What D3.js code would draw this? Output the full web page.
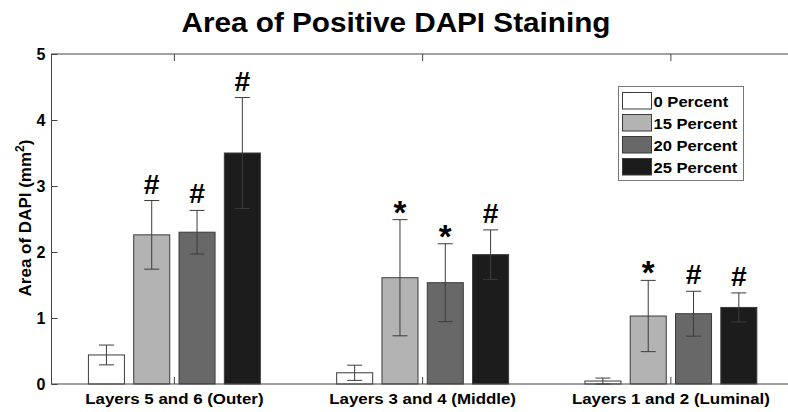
<!DOCTYPE html>
<html>
<head>
<meta charset="utf-8">
<script src="https://cdn.jsdelivr.net/npm/d3@7"></script>
<style>
  body { margin: 0; background: #fff; }
  svg text { font-family: "Liberation Sans", Arial, sans-serif; font-weight: bold; }
</style>
</head>
<body>
<svg id="chart" width="788" height="412"></svg>
<script>
// chart data
const layers = ["Layers 5 and 6 (Outer)", "Layers 3 and 4 (Middle)", "Layers 1 and 2 (Luminal)"];
const series = ["0 Percent", "15 Percent", "20 Percent", "25 Percent"];
const colors = ["#ffffff", "#b3b3b3", "#686868", "#1c1c1c"];
// mean area per layer, one row per layer, one value per series
const means = [
    [0.44, 2.26, 2.30, 3.50],
    [0.17, 1.61, 1.535, 1.96],
    [0.045, 1.03, 1.065, 1.16]
];
const errors = [
    [0.15, 0.52, 0.33, 0.84],
    [0.115, 0.88, 0.59, 0.375],
    [0.045, 0.54, 0.34, 0.22]
];
const marks = [
    ["", "#", "#", "#"],
    ["", "*", "*", "#"],
    ["", "*", "#", "#"]
];
const yTicks = [0, 1, 2, 3, 4, 5];

const svg = d3.select("#chart");
const stretch = 1.11; // text in the picture is a bit wider than plain Arial

const plotLeft = 51.5, plotRight = 795, plotTop = 54, plotBottom = 384;

const x = d3.scaleLinear().domain([0.505, 3.5]).range([plotLeft, plotRight]);
const step = x(2) - x(1);
const xSub = d3.scaleBand()
    .domain(d3.range(series.length))
    .range([-step * 0.365, step * 0.365])
    .paddingInner(0.205)
    .paddingOuter(0.1025);
const y = d3.scaleLinear().domain([0, 5]).range([plotBottom, plotTop]);

function addText(g, str, tx, ty, size, anchor, sx) {
    return g.append("text")
        .attr("transform", "translate(" + tx + "," + ty + ") scale(" + (sx || stretch) + ",1)")
        .attr("text-anchor", anchor || "middle")
        .attr("font-size", size + "px")
        .attr("fill", "#000")
        .text(str);
}

// title
addText(svg, "Area of Positive DAPI Staining", 396, 31.5, 27, "middle", 1.1);

// bars
layers.forEach(function(layer, i) {
    const g = svg.append("g").attr("class", "layer");
    means[i].forEach(function(v, j) {
        const cx = x(i + 1) + xSub(j);
        g.append("rect")
            .attr("x", cx)
            .attr("y", y(v))
            .attr("width", xSub.bandwidth())
            .attr("height", y(0) - y(v))
            .attr("fill", colors[j])
            .attr("stroke", "#3a3a3a")
            .attr("stroke-width", 1);
    });
});

// error bars and significance marks
layers.forEach(function(layer, i) {
    means[i].forEach(function(v, j) {
        const mx = x(i + 1) + xSub(j) + xSub.bandwidth() / 2;
        const hi = y(v + errors[i][j]);
        const lo = y(Math.max(0, v - errors[i][j]));
        const eb = svg.append("g").attr("stroke", "#3c3c3c").attr("stroke-width", 1);
        eb.append("line").attr("x1", mx).attr("x2", mx).attr("y1", hi).attr("y2", lo);
        eb.append("line").attr("x1", mx - 7.5).attr("x2", mx + 7.5).attr("y1", hi).attr("y2", hi);
        eb.append("line").attr("x1", mx - 7.5).attr("x2", mx + 7.5).attr("y1", lo).attr("y2", lo);

        const m = marks[i][j];
        if (m === "#") {
            addText(svg, m, mx, hi - 7, 27, "middle", 1.05);
        } else if (m === "*") {
            addText(svg, m, mx, hi + 4, 33, "middle", 1.0);
        }
    });
});

// axes box
svg.append("rect")
    .attr("x", plotLeft).attr("y", plotTop)
    .attr("width", plotRight - plotLeft).attr("height", plotBottom - plotTop)
    .attr("fill", "none")
    .attr("stroke", "#444")
    .attr("stroke-width", 1);

// y ticks (left and right, pointing inward)
const yAxisL = d3.axisLeft(y).tickValues(yTicks).tickSize(-6).tickPadding(6).tickFormat(d3.format("d"));
const gy = svg.append("g").attr("transform", "translate(" + plotLeft + ",0)").call(yAxisL);
gy.select(".domain").remove();
gy.selectAll(".tick line").attr("stroke", "#444");
gy.selectAll(".tick text")
    .attr("font-size", "16px")
    .attr("fill", "#000")
    .attr("font-family", "Liberation Sans, Arial, sans-serif")
    .attr("font-weight", "bold");

const yAxisR = d3.axisRight(y).tickValues(yTicks).tickSize(-6).tickFormat("");
const gyr = svg.append("g").attr("transform", "translate(" + plotRight + ",0)").call(yAxisR);
gyr.select(".domain").remove();
gyr.selectAll(".tick line").attr("stroke", "#444");

// x ticks at category centres (bottom and top)
[1, 2, 3].forEach(function(c) {
    svg.append("line").attr("x1", x(c)).attr("x2", x(c)).attr("y1", plotBottom).attr("y2", plotBottom - 7).attr("stroke", "#444");
    svg.append("line").attr("x1", x(c)).attr("x2", x(c)).attr("y1", plotTop).attr("y2", plotTop + 7).attr("stroke", "#444");
});

// category labels
layers.forEach(function(layer, i) {
    addText(svg, layer, x(i + 1), 404, 15.5, "middle", 1.09);
});

// y label
const yl = svg.append("text")
    .attr("transform", "translate(31,218) rotate(-90)")
    .attr("text-anchor", "middle")
    .attr("font-size", "17px");
yl.append("tspan").text("Area of DAPI (mm");
yl.append("tspan").attr("font-size", "12px").attr("dy", -7).text("2");
yl.append("tspan").attr("dy", 7).text(")");

// legend
const lg = svg.append("g").attr("class", "legend");
lg.append("rect")
    .attr("x", 618.5).attr("y", 86.5)
    .attr("width", 125).attr("height", 94)
    .attr("fill", "#fff")
    .attr("stroke", "#777");
series.forEach(function(s, j) {
    const ry = 92.5 + j * 22;
    lg.append("rect")
        .attr("x", 622.5).attr("y", ry)
        .attr("width", 29).attr("height", 16.5)
        .attr("fill", colors[j])
        .attr("stroke", "#3a3a3a");
    addText(lg, s, 653.5, ry + 14.2, 15.5, "start", 1.07);
});
</script>
</body>
</html>
